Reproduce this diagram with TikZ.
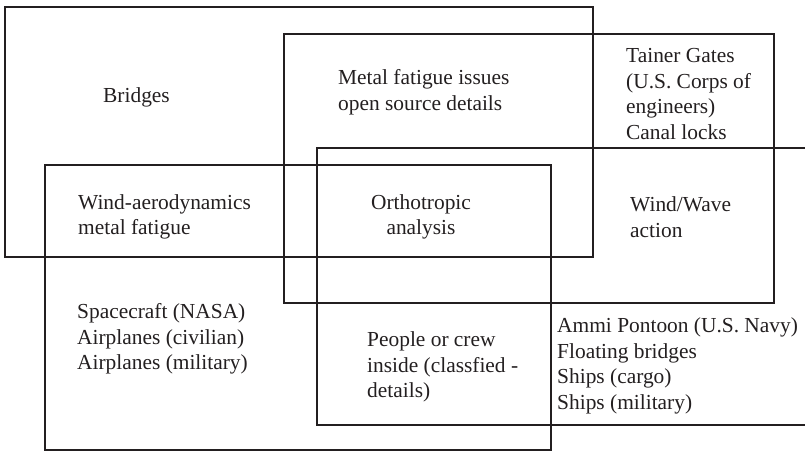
\documentclass[tikz,border=0pt]{standalone}
\usepackage{fontspec}
\setmainfont{Liberation Serif}
\definecolor{ink}{HTML}{231F20}
\begin{document}
\begin{tikzpicture}[x=1pt,y=-1pt,
  frame/.style={draw=ink,line width=2.4pt,line join=miter},
  label/.style={inner sep=0pt,text=ink,align=left,anchor=west,
    font=\fontsize{21.4}{25.5}\selectfont},
  clabel/.style={label,align=center,anchor=center}]
\useasboundingbox (0,0) rectangle (805,454);
% the four overlapping fields
\draw[frame] (5,7) rectangle (593,257);      % bridges
\draw[frame] (284,34) rectangle (774,303);   % metal fatigue
\draw[frame] (812,148) -| (317,425) -- (812,425); % wind/wave, open to the right
\draw[frame] (45,165) rectangle (551,450);   % aerodynamics
% labels
\node[label] (bridges) at (103,97) {Bridges};
\node[label] (fatigue) at (338,92) {Metal fatigue issues\\open source details};
\node[label] (gates) at (626,94) {Tainer Gates\\(U.S. Corps of\\engineers)\\Canal locks};
\node[label] (aero) at (78,217) {Wind-aerodynamics\\metal fatigue};
\node[clabel] (ortho) at (421,217) {Orthotropic\\analysis};
\node[label] (wave) at (630,217) {Wind/Wave\\action};
\node[label] (craft) at (77,339) {Spacecraft (NASA)\\Airplanes (civilian)\\Airplanes (military)};
\node[label] (crew) at (367,367) {People or crew\\inside (classfied -\\details)};
\node[label] (ships) at (557,366) {Ammi Pontoon (U.S. Navy)\\Floating bridges\\Ships (cargo)\\Ships (military)};
\end{tikzpicture}
\end{document}
